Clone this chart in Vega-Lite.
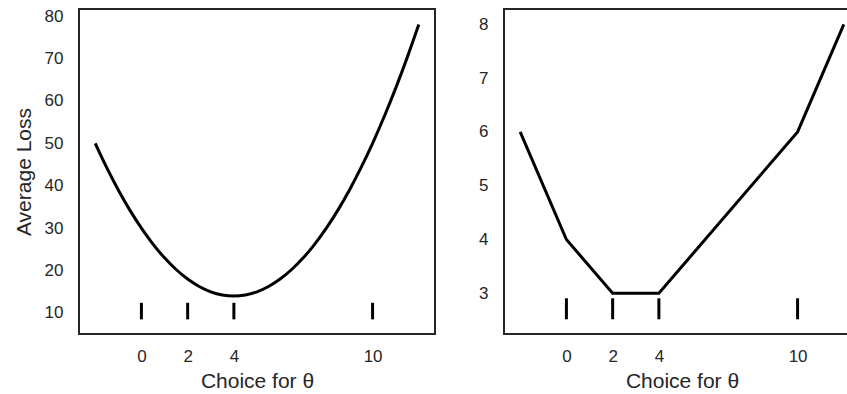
{
  "$schema": "https://vega.github.io/schema/vega-lite/v6.json",
  "padding": {"left": 12, "top": 6, "right": 0, "bottom": 0},
  "background": "white",
  "config": {
    "font": "Liberation Sans",
    "view": {"stroke": "#262626", "strokeWidth": 2},
    "axis": {
      "grid": false, "ticks": false, "tickSize": 0, "domain": false,
      "labelFont": "Liberation Sans", "labelFontSize": 17, "labelColor": "#262626",
      "titleFont": "Liberation Sans", "titleFontSize": 21, "titleColor": "#262626", "titleFontWeight": "normal"
    }
  },
  "datasets": {
    "mse": [
      {"theta": -2, "loss": 50}, {"theta": -1.5, "loss": 44.25}, {"theta": -1, "loss": 39}, {"theta": -0.5, "loss": 34.25},
      {"theta": 0, "loss": 30}, {"theta": 0.5, "loss": 26.25}, {"theta": 1, "loss": 23}, {"theta": 1.5, "loss": 20.25},
      {"theta": 2, "loss": 18}, {"theta": 2.5, "loss": 16.25}, {"theta": 3, "loss": 15}, {"theta": 3.5, "loss": 14.25},
      {"theta": 4, "loss": 14}, {"theta": 4.5, "loss": 14.25}, {"theta": 5, "loss": 15}, {"theta": 5.5, "loss": 16.25},
      {"theta": 6, "loss": 18}, {"theta": 6.5, "loss": 20.25}, {"theta": 7, "loss": 23}, {"theta": 7.5, "loss": 26.25},
      {"theta": 8, "loss": 30}, {"theta": 8.5, "loss": 34.25}, {"theta": 9, "loss": 39}, {"theta": 9.5, "loss": 44.25},
      {"theta": 10, "loss": 50}, {"theta": 10.5, "loss": 56.25}, {"theta": 11, "loss": 63}, {"theta": 11.5, "loss": 70.25},
      {"theta": 12, "loss": 78}
    ],
    "mae": [
      {"theta": -2, "loss": 6}, {"theta": 0, "loss": 4}, {"theta": 2, "loss": 3},
      {"theta": 4, "loss": 3}, {"theta": 10, "loss": 6}, {"theta": 12, "loss": 8}
    ],
    "pts": [{"x": 0}, {"x": 2}, {"x": 4}, {"x": 10}]
  },
  "hconcat": [
    {
      "width": 356, "height": 325,
      "layer": [
        {
          "data": {"name": "mse"},
          "mark": {"type": "line", "color": "black", "strokeWidth": 3, "interpolate": "monotone"},
          "encoding": {
            "x": {"field": "theta", "type": "quantitative", "scale": {"domain": [-2.7, 12.7], "nice": false, "zero": false},
                  "axis": {"values": [0, 2, 4, 10], "title": "Choice for θ", "labelPadding": 14, "titlePadding": 6}},
            "y": {"field": "loss", "type": "quantitative", "scale": {"domain": [5.05, 81.65], "nice": false, "zero": false},
                  "axis": {"values": [10, 20, 30, 40, 50, 60, 70, 80], "format": "d", "title": "Average Loss", "labelPadding": 16, "titlePadding": 10}}
          }
        },
        {
          "data": {"name": "pts"},
          "mark": {"type": "rule", "color": "black", "strokeWidth": 3},
          "encoding": {
            "x": {"field": "x", "type": "quantitative"},
            "y": {"datum": 8.5},
            "y2": {"datum": 12.4}
          }
        }
      ]
    },
    {
      "width": 356, "height": 325,
      "layer": [
        {
          "data": {"name": "mae"},
          "mark": {"type": "line", "color": "black", "strokeWidth": 3},
          "encoding": {
            "x": {"field": "theta", "type": "quantitative", "scale": {"domain": [-2.7, 12.7], "nice": false, "zero": false},
                  "axis": {"values": [0, 2, 4, 10], "title": "Choice for θ", "labelPadding": 14, "titlePadding": 6}},
            "y": {"field": "loss", "type": "quantitative", "scale": {"domain": [2.243, 8.285], "nice": false, "zero": false},
                  "axis": {"values": [3, 4, 5, 6, 7, 8], "format": "d", "title": null, "labelPadding": 16}}
          }
        },
        {
          "data": {"name": "pts"},
          "mark": {"type": "rule", "color": "black", "strokeWidth": 3},
          "encoding": {
            "x": {"field": "x", "type": "quantitative"},
            "y": {"datum": 2.517},
            "y2": {"datum": 2.907}
          }
        }
      ]
    }
  ],
  "spacing": 69,
  "bounds": "flush"
}
